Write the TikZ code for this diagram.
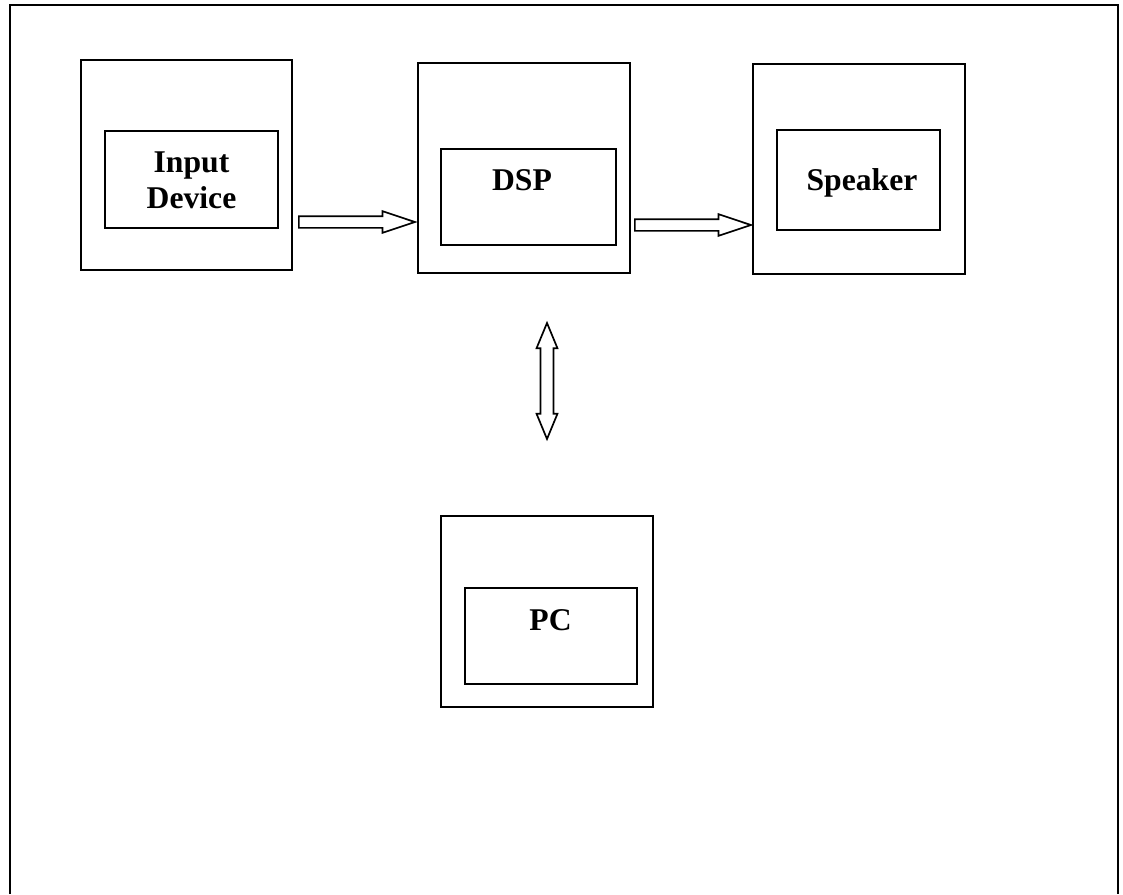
\documentclass[tikz,border=0pt]{standalone}
\usepackage{fontspec}
\setmainfont{Liberation Serif}
\usetikzlibrary{shapes.arrows, calc}

\begin{document}
\begin{tikzpicture}[
        x=0.025cm, y=-0.025cm,
        outerbox/.style={draw, line width=1.4pt, minimum width=5.275cm, minimum height=5.25cm, inner sep=0pt},
        innerbox/.style={draw, line width=1.3pt, inner sep=0pt},
        boxtext/.style={font=\bfseries\fontsize{22.5}{25.6}\selectfont, align=center, inner sep=0pt},
        blockarrow/.style={single arrow, draw, line width=1.2pt, inner xsep=0pt, inner ysep=0.125cm,
          minimum height=2.9cm, single arrow head extend=0.125cm, single arrow tip angle=37, anchor=tail},
        twoway/.style={double arrow, draw, line width=1.2pt, inner xsep=0pt, inner ysep=0.14cm,
          minimum height=2.9cm, double arrow head extend=0.1cm, double arrow tip angle=45, rotate=90}
      ]
      \useasboundingbox (0,0) rectangle (1123,894);
      \draw[line width=2pt] (10,894) -- (10,5) -- (1118,5) -- (1118,894);

      % input device
      \node[outerbox] (inp) at (186.5,165) {};
      \node[innerbox, minimum width=4.325cm, minimum height=2.425cm] (inpin) at (191.5,179.5) {};
      \node[boxtext] (inptxt) at (191.5,180) {Input\\Device};

      % dsp
      \node[outerbox, minimum width=5.3cm] (dsp) at (524,168) {};
      \node[innerbox, minimum width=4.375cm, minimum height=2.4cm] (dspin) at (528.5,197) {};
      \node[boxtext, anchor=base] (dsptxt) at (522,190) {DSP};

      % speaker
      \node[outerbox, minimum width=5.3cm] (spk) at (859,169) {};
      \node[innerbox, minimum width=4.075cm, minimum height=2.5cm] (spkin) at (858.5,180) {};
      \node[boxtext, anchor=base] (spktxt) at (862,190) {Speaker};

      % pc
      \node[outerbox, minimum width=5.3cm, minimum height=4.775cm] (pc) at (547,611.5) {};
      \node[innerbox, minimum width=4.3cm, minimum height=2.4cm] (pcin) at (551,636) {};
      \node[boxtext, anchor=base] (pctxt) at (550.5,630) {PC};

      % connectors
      \node[blockarrow] (a1) at ($(inp.east)+(5,57)$) {};
      \node[blockarrow] (a2) at ($(dsp.east)+(3,57)$) {};
      \node[twoway] (a3) at (547,381) {};
\end{tikzpicture}
\end{document}
